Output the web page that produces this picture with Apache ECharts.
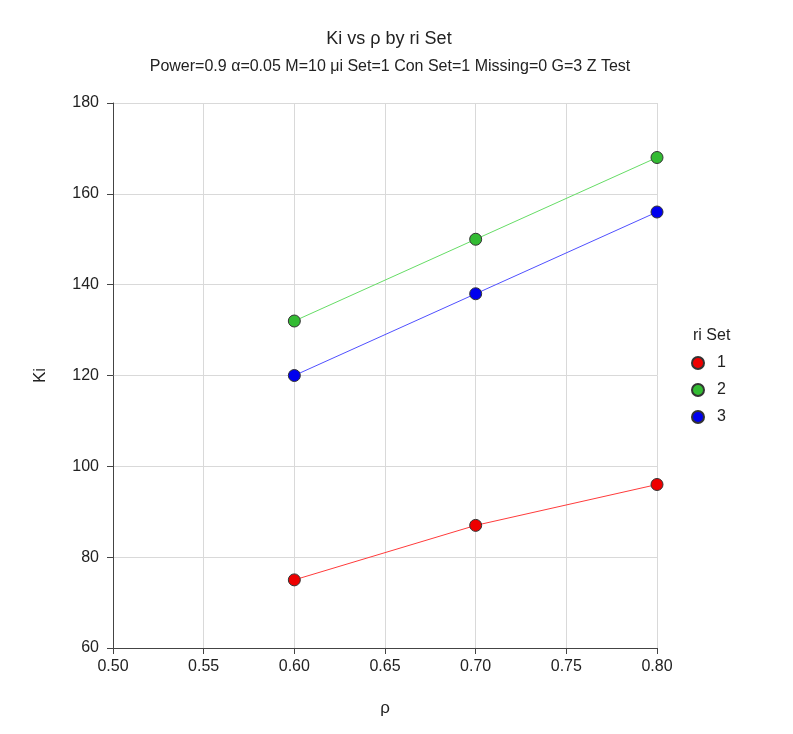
<!DOCTYPE html>
<html><head><meta charset="utf-8">
<script src="https://cdn.jsdelivr.net/npm/echarts@6/dist/echarts.min.js"></script>
<style>html,body{margin:0;padding:0;background:#fff}#c{width:793px;height:734px}</style>
</head><body><div id="c"></div>
<script>
const rho = [0.60, 0.70, 0.80];
const seriesNames = ['1', '2', '3'];
const ki1 = [75, 87, 96];
const ki2 = [132, 150, 168];
const ki3 = [120, 138, 156];
const allKi = [ki1, ki2, ki3];
const markerColors = ['#ee0000', '#33bb33', '#0000ee'];
const lineColors = ['#ff3b3b', '#66dd66', '#5050ff'];
const FONT = 'Liberation Sans, Arial, sans-serif';

const chart = echarts.init(document.getElementById('c'));
chart.setOption({
  backgroundColor: '#fff',
  animation: false,
  textStyle: {fontFamily: FONT},
  title: [
    {text: 'Ki vs ρ by ri Set', left: 384, top: 25, textAlign: 'center',
     textStyle: {fontSize: 18, fontWeight: 'normal', color: '#222', fontFamily: FONT}},
    {text: 'Power=0.9 α=0.05 M=10 μi Set=1 Con Set=1 Missing=0 G=3 Z Test', left: 385, top: 54, textAlign: 'center',
     textStyle: {fontSize: 16, fontWeight: 'normal', color: '#222', fontFamily: FONT}}
  ],
  grid: {left: 113, top: 103, right: 136, bottom: 86, show: false},
  xAxis: {
    type: 'value', min: 0.5, max: 0.8, interval: 0.05,
    name: 'ρ', nameLocation: 'middle', nameGap: 52,
    nameTextStyle: {fontSize: 17, color: '#222'},
    axisLine: {show: true, lineStyle: {color: '#444', width: 1}},
    axisTick: {show: true, length: 6, lineStyle: {color: '#444'}},
    axisLabel: {fontSize: 16, color: '#222', margin: 11, formatter: v => v.toFixed(2)},
    splitLine: {show: true, lineStyle: {color: '#d9d9d9', width: 1}}
  },
  yAxis: {
    type: 'value', min: 60, max: 180, interval: 20,
    name: 'Ki', nameLocation: 'middle', nameGap: 64, nameRotate: 90,
    nameTextStyle: {fontSize: 17, color: '#222'},
    axisLine: {show: true, lineStyle: {color: '#444', width: 1}},
    axisTick: {show: true, length: 6, lineStyle: {color: '#444'}},
    axisLabel: {fontSize: 16, color: '#222', margin: 14},
    splitLine: {show: true, lineStyle: {color: '#d9d9d9', width: 1}}
  },
  legend: {
    orient: 'vertical', left: 691, top: 355, padding: 0,
    itemWidth: 12, itemHeight: 12, itemGap: 11,
    icon: 'circle',
    textStyle: {fontSize: 16, lineHeight: 16, color: '#222', padding: [0, 0, 0, 8]},
    data: seriesNames
  },
  graphic: [
    {type: 'text', left: 693, top: 328, style: {text: 'ri Set', font: '16px ' + FONT, fill: '#222'}}
  ],
  series: allKi.map((arr, i) => ({
    name: seriesNames[i], type: 'line',
    data: rho.map((x, j) => [x, arr[j]]),
    symbol: 'circle', symbolSize: 12,
    lineStyle: {color: lineColors[i], width: 1},
    itemStyle: {color: markerColors[i], borderColor: '#333', borderWidth: 1}
  }))
});
</script></body></html>
